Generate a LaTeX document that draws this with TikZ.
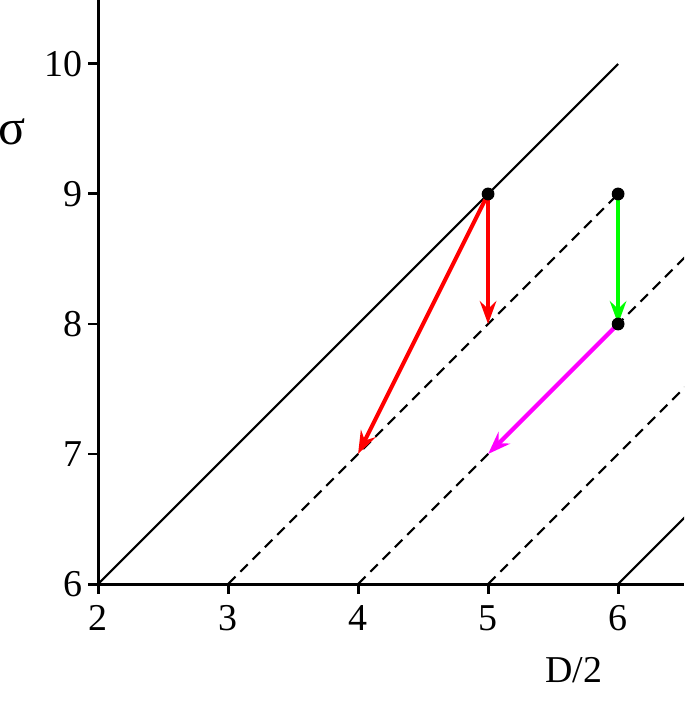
\documentclass[tikz,border=0pt]{standalone}
\usepackage{fontspec}
\setmainfont{Liberation Serif}
\usetikzlibrary{arrows.meta}
\begin{document}
\begin{tikzpicture}[x=1cm,y=1cm,
  axisline/.style={line width=0.65pt},
  diag/.style={line width=0.45pt},
  dashdiag/.style={line width=0.45pt, dash pattern=on 2.3pt off 1.5pt},
  vec/.style={line width=0.9pt, -{Stealth[length=5pt,width=3.6pt,inset=1.7pt]}},
  dot/.style={circle, fill=black, inner sep=0pt, minimum size=2.8pt},
  ticklab/.style={font=\fontsize{8.3}{9}\selectfont, inner sep=0pt},
  axlab/.style={font=\fontsize{8.3}{9}\selectfont, inner sep=0pt}]
\definecolor{vgreen}{RGB}{0,255,0}
\definecolor{vmag}{RGB}{255,0,255}
\useasboundingbox (1.246,5.085) rectangle (6.508,10.492);
\begin{scope}
\clip (1.246,5.085) rectangle (6.508,10.492);
% diagonals
\draw[diag] (2,6) -- (6,10);
\draw[dashdiag] (3,6) -- (6,9);
\draw[dashdiag] (4,6) -- (6.6,8.6);
\draw[dashdiag] (5,6) -- (6.6,7.6);
\draw[diag] (6,6) -- (6.6,6.6);
\end{scope}
% axes
\coordinate (O) at (2,6);
\coordinate (xend) at (6.508,6);
\coordinate (yend) at (2,10.492);
\draw[axisline] (O) -- (xend);
\draw[axisline] (O) -- (yend);
\foreach \x in {2,...,6} {
  \draw[axisline] (\x,6) -- (\x,5.923);
  \node[ticklab] (xl\x) at (\x,5.738) {\x};
}
\foreach \y in {6,...,10} {
  \draw[axisline] (2,\y) -- (1.923,\y);
  \node[ticklab, anchor=east] (yl\y) at (1.885,\y) {\y};
}
\node[axlab, font=\fontsize{11}{12}\selectfont] (sig) at (1.336,9.475) {σ};
\node[axlab] (dlab) at (5.658,5.338) {D/2};
% points
\coordinate (A) at (5,9);
\coordinate (B) at (4,7);
\coordinate (C) at (5,8);
\coordinate (D) at (6,9);
\coordinate (E) at (6,8);
\coordinate (F) at (5,7);
\draw[vec, red] (A) -- (B);
\draw[vec, red] (A) -- (C);
\draw[vec, vgreen] (D) -- (E);
\draw[vec, vmag] (E) -- (F);
\node[dot] (pA) at (A) {};
\node[dot] (pD) at (D) {};
\node[dot] (pE) at (E) {};
\end{tikzpicture}
\end{document}
